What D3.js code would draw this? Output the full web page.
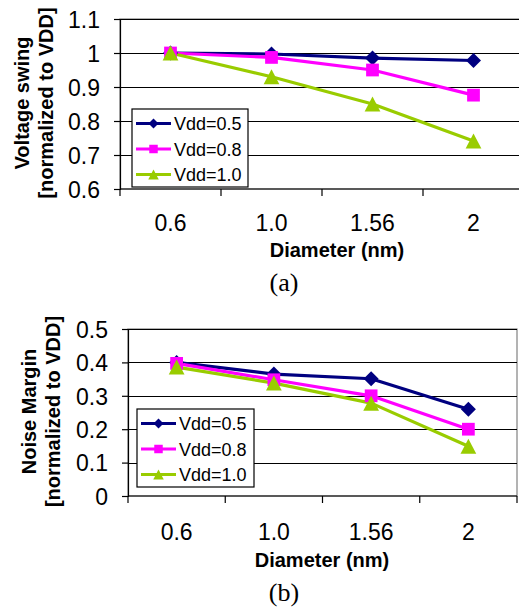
<!DOCTYPE html>
<html>
<head>
<meta charset="utf-8">
<script src="https://cdn.jsdelivr.net/npm/d3@7"></script>
<style>
html,body{margin:0;padding:0;background:#fff;}
svg{display:block;}
</style>
</head>
<body>
<svg id="chart" width="519" height="609"></svg>
<script>
// ---- data ----
const diameters = ["0.6", "1.0", "1.56", "2"];
const seriesNames = ["Vdd=0.5", "Vdd=0.8", "Vdd=1.0"];
const swingVdd05 = [1.0, 0.997, 0.985, 0.978];
const swingVdd08 = [1.0, 0.987, 0.95, 0.876];
const swingVdd10 = [1.0, 0.93, 0.85, 0.741];
const noiseVdd05 = [0.40, 0.365, 0.351, 0.26];
const noiseVdd08 = [0.397, 0.348, 0.30, 0.20];
const noiseVdd10 = [0.386, 0.338, 0.278, 0.149];
const swingTicks = [0.6, 0.7, 0.8, 0.9, 1, 1.1];
const swingTickLabels = ["0.6", "0.7", "0.8", "0.9", "1", "1.1"];
const noiseTicks = [0, 0.1, 0.2, 0.3, 0.4, 0.5];
const noiseTickLabels = ["0", "0.1", "0.2", "0.3", "0.4", "0.5"];

const colors = ["#000080", "#FF00FF", "#99CC00"];
const markers = ["diamond", "square", "triangle"];

function markerPath(type, r) {
  if (type === "diamond") return `M0,${-r}L${r},0L0,${r}L${-r},0Z`;
  if (type === "square") { const s = r * 0.85; return `M${-s},${-s}H${s}V${s}H${-s}Z`; }
  return `M0,${-r}L${r*1.05},${r}L${-r*1.05},${r}Z`;
}

const svg = d3.select("#chart");
const SANS = "'Liberation Sans', Arial, sans-serif";

function drawPanel(cfg) {
  const g = svg.append("g");
  const x = d3.scaleBand().domain(diameters).range([cfg.left, cfg.right]).paddingInner(0).paddingOuter(0);
  const y = d3.scaleLinear().domain(cfg.domain).range([cfg.bottom, cfg.top]);
  const cx = d => x(d) + x.bandwidth() / 2;

  // plot-area border (gray)
  g.append("rect").attr("x", cfg.left).attr("y", cfg.top)
    .attr("width", cfg.right - cfg.left).attr("height", cfg.bottom - cfg.top)
    .attr("fill", "none").attr("stroke", "#808080").attr("stroke-width", 1.2);

  // gridlines
  g.selectAll(".grid").data(cfg.ticks.filter(t => t !== cfg.domain[0])).enter().append("line")
    .attr("x1", cfg.left).attr("x2", cfg.right)
    .attr("y1", d => Math.round(y(d)) + 0.5).attr("y2", d => Math.round(y(d)) + 0.5)
    .attr("stroke", "#000").attr("stroke-width", 1.1);

  // y axis
  const yAxis = d3.axisLeft(y).tickValues(cfg.ticks).tickSize(6).tickPadding(6)
    .tickFormat((d, i) => cfg.tickLabels[i]);
  const ya = g.append("g").attr("transform", `translate(${cfg.left},0)`).call(yAxis);
  ya.select(".domain").attr("stroke", "#000").attr("stroke-width", 1.2);
  ya.selectAll(".tick line").attr("stroke", "#000").attr("stroke-width", 1.2);
  ya.selectAll(".tick text").attr("font-family", SANS).attr("font-size", 23).attr("fill", "#000")
    .attr("x", cfg.ylabelX - cfg.left).attr("dy", "0.36em");

  // x axis line + boundary ticks
  g.append("line").attr("x1", cfg.left).attr("x2", cfg.right)
    .attr("y1", cfg.bottom).attr("y2", cfg.bottom).attr("stroke", "#000").attr("stroke-width", 1.2);
  const bounds = diameters.map(d => x(d)).concat([cfg.right]);
  g.selectAll(".xt").data(bounds).enter().append("line")
    .attr("x1", d => d).attr("x2", d => d)
    .attr("y1", cfg.bottom).attr("y2", cfg.bottom + 7)
    .attr("stroke", "#000").attr("stroke-width", 1.2);
  g.selectAll(".xl").data(diameters).enter().append("text")
    .attr("x", d => cx(d)).attr("y", cfg.xlabelY)
    .attr("text-anchor", "middle").attr("font-family", SANS).attr("font-size", 23)
    .text(d => d);

  // axis titles
  g.append("text").attr("x", cfg.xtitleX).attr("y", cfg.xtitleY)
    .attr("text-anchor", "middle").attr("font-family", SANS).attr("font-weight", "bold")
    .attr("font-size", 20).text("Diameter (nm)");
  const yc = (cfg.top + cfg.bottom) / 2 - 1;
  cfg.ytitle.forEach((t, i) => {
    g.append("text")
      .attr("transform", `translate(${cfg.ytitleX[i]},${yc}) rotate(-90)`)
      .attr("text-anchor", "middle").attr("font-family", SANS).attr("font-weight", "bold")
      .attr("font-size", 20).text(t);
  });

  // caption
  g.append("text").attr("x", 284).attr("y", cfg.captionY).attr("text-anchor", "middle")
    .attr("font-family", "'Liberation Serif', 'Times New Roman', serif").attr("font-size", 26)
    .text(cfg.caption);

  // series
  const line = d3.line().x((d, i) => cx(diameters[i])).y(d => y(d));
  cfg.series.forEach((vals, si) => {
    g.append("path").datum(vals).attr("d", line)
      .attr("fill", "none").attr("stroke", colors[si]).attr("stroke-width", 3.2)
      .attr("stroke-linejoin", "round");
  });
  cfg.series.forEach((vals, si) => {
    g.selectAll(null).data(vals).enter().append("path")
      .attr("transform", (d, i) => `translate(${cx(diameters[i])},${y(d)})`)
      .attr("d", markerPath(markers[si], 7.5))
      .attr("fill", colors[si]);
  });

  // legend
  const L = cfg.legend;
  g.append("rect").attr("x", L.x).attr("y", L.y).attr("width", L.w).attr("height", L.h)
    .attr("fill", "#fff").attr("stroke", "#000").attr("stroke-width", 1.2);
  seriesNames.forEach((name, si) => {
    const ey = L.y + 14.5 + si * 25.5;
    g.append("line").attr("x1", L.x + 4).attr("x2", L.x + 39).attr("y1", ey).attr("y2", ey)
      .attr("stroke", colors[si]).attr("stroke-width", 3.2);
    g.append("path").attr("transform", `translate(${L.x + 21.5},${ey})`)
      .attr("d", markerPath(markers[si], 5)).attr("fill", colors[si]);
    g.append("text").attr("x", L.x + 42).attr("y", ey + 6.5)
      .attr("font-family", SANS).attr("font-size", 18).text(name);
  });
}

drawPanel({
  left: 120, right: 524, top: 19, bottom: 189,
  domain: [0.6, 1.1], ticks: swingTicks, tickLabels: swingTickLabels,
  ylabelX: 100, xlabelY: 231, xtitleX: 337, xtitleY: 257,
  ytitle: ["Voltage swing", "[normalized to VDD]"], ytitleX: [29, 53],
  caption: "(a)", captionY: 291,
  series: [swingVdd05, swingVdd08, swingVdd10],
  legend: {x: 132, y: 109, w: 116, h: 78}
});

drawPanel({
  left: 128, right: 517, top: 329, bottom: 496,
  domain: [0, 0.5], ticks: noiseTicks, tickLabels: noiseTickLabels,
  ylabelX: 108, xlabelY: 540, xtitleX: 322, xtitleY: 566.5,
  ytitle: ["Noise Margin", "[normalized to VDD]"], ytitleX: [36, 60],
  caption: "(b)", captionY: 601,
  series: [noiseVdd05, noiseVdd08, noiseVdd10],
  legend: {x: 137, y: 409, w: 117, h: 78}
});
</script>
</body>
</html>
